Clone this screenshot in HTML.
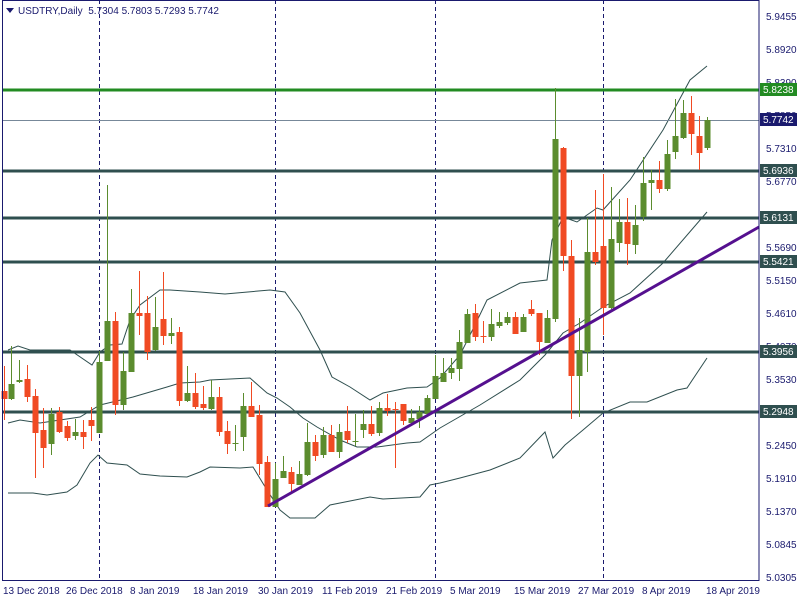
<!DOCTYPE html>
<html><head><meta charset="utf-8"><style>
html,body{margin:0;padding:0;background:#fff}
svg{display:block}
text{font-family:"Liberation Sans",sans-serif;font-size:10px}
</style></head><body>
<svg id="s" width="800" height="600" xmlns="http://www.w3.org/2000/svg">
<rect x="0" y="0" width="800" height="600" fill="#fff"/>
<g id="grid"></g>
<g stroke="#1a1a6e" stroke-width="1" stroke-dasharray="4,3">
<line x1="99.5" y1="0" x2="99.5" y2="580"/><line x1="275.5" y1="0" x2="275.5" y2="580"/>
<line x1="435.5" y1="0" x2="435.5" y2="580"/><line x1="603.5" y1="0" x2="603.5" y2="580"/>
</g>
<g fill="none" stroke="#2f4f4f" stroke-width="1">
<polyline points="8,350 18,346 30,350 70,350 92,365 100,352 110,345 122,344 130,320 140,305 160,290 170,290 200,292 225,294 270,290 285,292 300,313 320,350 332,377 350,387 370,400 383,393 407,388 427,387 440,378 460,355 475,325 487,300 520,283 547,280 552,240 563,217 577,222 597,208 603,210 630,180 663,130 690,80 707,66"/>
<polyline points="8,423 20,420 40,423 60,420 80,417 100,405 133,397 167,387 180,383 200,382 210,380 250,378 267,393 277,398 290,407 303,418 317,427 340,440 357,447 377,447 407,443 420,442 440,428 480,405 520,380 545,355 563,333 580,323 603,307 630,293 663,263 707,212"/>
<polyline points="8,493 33,493 47,495 67,492 77,485 90,463 98,455 107,463 127,465 140,474 160,476 187,477 200,472 210,467 240,468 253,467 267,490 280,510 290,518 315,518 330,505 370,497 383,499 420,497 430,485 440,483 460,478 490,470 520,458 545,432 553,458 565,445 583,430 603,413 630,402 647,402 677,390 687,388 707,358"/>
</g>
<line x1="2" y1="120.5" x2="759" y2="120.5" stroke="#778899" stroke-width="1"/>
<g stroke="#2f4f4f" stroke-width="3">
<line x1="2" y1="171" x2="759" y2="171"/><line x1="2" y1="218" x2="759" y2="218"/>
<line x1="2" y1="262" x2="759" y2="262"/><line x1="2" y1="352" x2="759" y2="352"/>
<line x1="2" y1="412" x2="759" y2="412"/>
</g>
<line x1="2" y1="90" x2="759" y2="90" stroke="#228b22" stroke-width="3"/>
<g id="c"></g>
<line x1="268" y1="506" x2="759" y2="227" stroke="#55108f" stroke-width="3"/>
<rect x="2.5" y="0.5" width="756.5" height="580" fill="none" stroke="#1a1a6e"/>
<g fill="#1a1a6e">
<path d="M6,8 L14,8 L10,13 Z"/>
<text x="18" y="14">USDTRY,Daily&#160;&#160;5.7304 5.7803 5.7293 5.7742</text>
</g>
<g fill="#1a1a6e" id="ax">
<text x="766" y="20">5.9455</text><text x="766" y="53">5.8920</text><text x="766" y="86">5.8390</text>
<text x="766" y="119">5.7850</text><text x="766" y="152">5.7310</text><text x="766" y="185">5.6770</text>
<text x="766" y="218">5.6230</text><text x="766" y="251">5.5690</text><text x="766" y="284">5.5150</text>
<text x="766" y="317">5.4610</text><text x="766" y="350">5.4070</text><text x="766" y="383">5.3530</text>
<text x="766" y="416">5.2990</text><text x="766" y="449">5.2450</text><text x="766" y="482">5.1910</text>
<text x="766" y="515">5.1370</text><text x="766" y="548">5.0845</text><text x="766" y="581">5.0305</text>
</g>
<g>
<rect x="760" y="83" width="37" height="13" fill="#228b22"/>
<rect x="760" y="113" width="37" height="13" fill="#1a1a6e"/>
<rect x="760" y="164" width="37" height="13" fill="#2f4f4f"/>
<rect x="760" y="211" width="37" height="13" fill="#2f4f4f"/>
<rect x="760" y="255" width="37" height="13" fill="#2f4f4f"/>
<rect x="760" y="345" width="37" height="13" fill="#2f4f4f"/>
<rect x="760" y="405" width="37" height="13" fill="#2f4f4f"/>
</g>
<g fill="#fff">
<text x="763" y="93">5.8238</text><text x="763" y="123">5.7742</text><text x="763" y="174">5.6936</text>
<text x="763" y="221">5.6131</text><text x="763" y="265">5.5421</text><text x="763" y="355">5.3956</text>
<text x="763" y="415">5.2948</text>
</g>
<g fill="#1a1a6e">
<text x="3" y="594">13 Dec 2018</text><text x="66" y="594">26 Dec 2018</text><text x="130" y="594">8 Jan 2019</text>
<text x="193" y="594">18 Jan 2019</text><text x="258" y="594">30 Jan 2019</text><text x="322" y="594">11 Feb 2019</text>
<text x="386" y="594">21 Feb 2019</text><text x="450" y="594">5 Mar 2019</text><text x="514" y="594">15 Mar 2019</text>
<text x="578" y="594">27 Mar 2019</text><text x="642" y="594">8 Apr 2019</text><text x="706" y="594">18 Apr 2019</text>
</g>
</svg>
<script>
var d=[[4,391,399,366,420,0],[11,399,384,346,400,1],[19,382,380,360,383,1],[27,379,397,365,402,0],[35,396,433,389,478,0],[43,430,448,408,468,0],[51,444,414,408,455,1],[59,412,432,407,433,0],[67,426,438,421,441,0],[75,436,432,419,440,1],[83,432,437,420,449,0],[91,420,426,407,441,0],[99,433,362,351,433,1],[107,361,321,185,361,1],[115,321,405,312,415,0],[123,405,371,352,410,1],[131,372,313,289,372,1],[139,313,316,271,335,0],[147,313,352,296,360,0],[155,350,327,297,351,1],[163,319,336,272,345,0],[171,336,333,318,344,1],[179,332,401,327,406,0],[187,401,393,366,402,1],[195,393,407,373,409,0],[203,404,408,386,410,0],[211,409,397,380,410,1],[219,397,432,387,436,0],[227,431,444,421,454,0],[235,444,443,425,451,1],[243,437,406,393,451,1],[251,406,417,382,417,0],[259,415,464,405,475,0],[267,462,507,456,507,0],[275,507,479,463,507,1],[283,478,471,456,478,1],[291,472,484,467,493,0],[299,485,474,461,485,1],[307,475,442,423,476,1],[315,442,456,435,461,0],[323,455,435,427,458,1],[331,435,452,425,452,0],[339,452,432,424,458,1],[347,431,440,406,443,0],[355,442,441,414,446,1],[363,430,424,410,438,1],[371,424,434,406,436,0],[379,433,408,402,436,1],[387,408,411,394,416,0],[395,409,410,402,468,0],[403,404,421,404,425,0],[411,423,418,409,426,1],[419,419,412,406,428,1],[427,414,398,395,415,1],[435,399,376,355,399,1],[443,382,373,358,382,1],[451,373,368,358,379,1],[459,369,342,330,381,1],[467,343,314,309,343,1],[475,313,337,304,341,0],[483,336,337,321,343,0],[491,337,324,309,341,1],[499,326,322,312,328,1],[507,323,317,312,325,1],[515,317,334,312,334,0],[523,332,317,314,332,1],[531,309,314,300,316,0],[539,313,342,313,355,0],[547,343,318,310,343,1],[555,319,139,88,322,1],[563,148,256,147,271,0],[571,256,376,240,419,0],[579,376,350,318,417,1],[587,352,252,218,372,1],[595,252,262,190,265,0],[603,246,308,174,335,0],[611,308,239,187,309,1],[619,243,222,199,252,1],[627,222,244,198,265,0],[635,245,225,205,254,1],[643,217,183,157,221,1],[651,183,180,170,210,1],[659,180,189,161,193,0],[667,189,154,140,191,1],[675,152,136,99,159,1],[683,138,113,100,139,1],[691,113,134,96,155,0],[699,136,153,116,170,0],[707,148,120,117,150,1]];
var g=document.getElementById('c'),h='';
d.forEach(function(c){var col=c[5]?'#5b8c2e':'#f04a23';var t=Math.min(c[1],c[2]),b=Math.max(c[1],c[2]);
h+='<line x1="'+(c[0]+0.5)+'" y1="'+c[3]+'" x2="'+(c[0]+0.5)+'" y2="'+c[4]+'" stroke="'+col+'" stroke-width="1"/>';
h+='<rect x="'+(c[0]-2.5)+'" y="'+t+'" width="6" height="'+Math.max(1,b-t)+'" fill="'+col+'"/>';});
g.innerHTML=h;
</script>
</body></html>
